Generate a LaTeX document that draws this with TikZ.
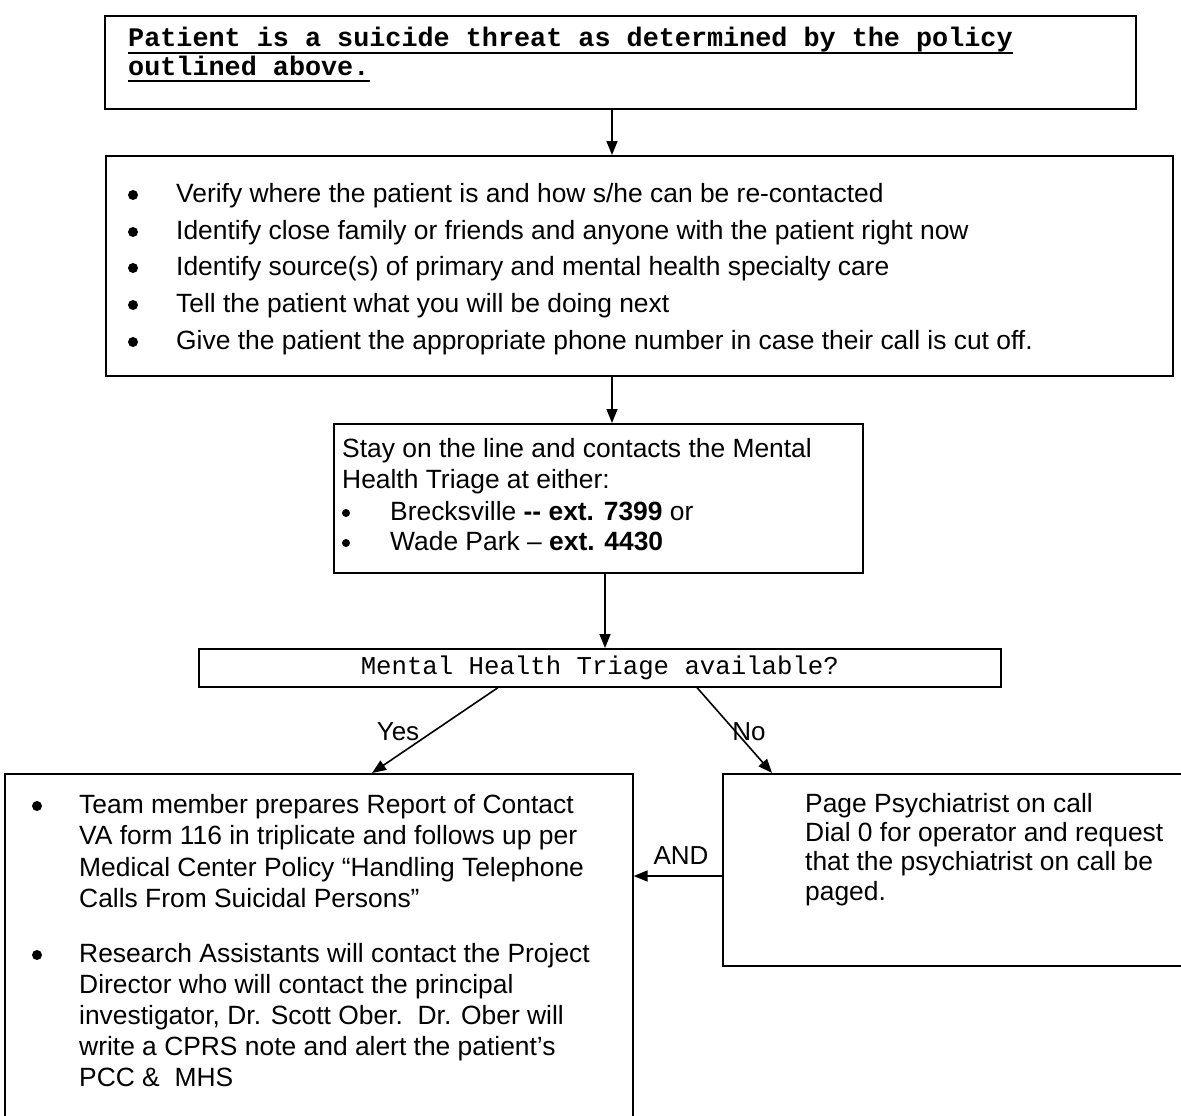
\documentclass[tikz,border=0pt]{standalone}
\usepackage{fontspec}
\setmainfont{Liberation Sans}
\newfontfamily\monof{Liberation Mono}
\usetikzlibrary{arrows.meta}
\begin{document}
\begin{tikzpicture}[x=1pt,y=-1pt,
  box/.style={draw, line width=1.6pt, inner sep=0pt, anchor=north west},
  txt/.style={anchor=base west, inner sep=0pt, font=\fontsize{26.4}{30}\selectfont},
  bul/.style={circle, fill, inner sep=0pt, minimum size=10pt},
  mtxt/.style={anchor=base west, inner sep=0pt, font=\fontsize{26.8}{30}\monof\bfseries},
  uline/.style={line width=1.8pt},
  arr/.style={line width=1.6pt, -{Triangle[length=14pt,width=11pt]}},
  lab/.style={inner sep=0pt, font=\fontsize{26}{30}\selectfont}]
\useasboundingbox (0,0) rectangle (1181,1116);
\clip (0,0) rectangle (1181,1116);
% boxes
\node[box, minimum width=1031pt, minimum height=93pt] (b1) at (104,15) {};
\node[box, minimum width=1067pt, minimum height=220pt] (b2) at (105,155) {};
\node[box, minimum width=529pt, minimum height=149pt] (b3) at (333,423) {};
\node[box, minimum width=802pt, minimum height=38pt] (b4) at (198,648) {};
\node[box, minimum width=628pt, minimum height=360pt] (b5) at (4,773) {};
\node[box, minimum width=480pt, minimum height=192pt] (b6) at (722,773) {};
% box 1 text
\node[mtxt] (t1a) at (128,47) {Patient is a suicide threat as determined by the policy};
\node[mtxt] (t1b) at (128,75) {outlined above.};
\draw[uline] ([yshift=-6pt]t1a.base west) -- ([yshift=-6pt]t1a.base east);
\draw[uline] ([yshift=-6pt]t1b.base west) -- ([yshift=-6pt]t1b.base east);
% box 2 text
\foreach \yy/\tt [count=\i] in {202/{Verify where the patient is and how s/he can be re-contacted},
  239/{Identify close family or friends and anyone with the patient right now},
  275/{Identify source(s) of primary and mental health specialty care},
  312/{Tell the patient what you will be doing next},
  349/{Give the patient the appropriate phone number in case their call is cut off.}}{
  \node[bul] (bu2\i) at (133,\yy-7) {};
  \node[txt] (t2\i) at (176,\yy) {\tt};
}
% box 3 text
\node[txt] (t3a) at (342,457) {Stay on the line and contacts the Mental};
\node[txt] (t3b) at (342,488) {Health Triage at either:};
\node[bul, minimum size=8pt] (bu3a) at (346,513) {};
\node[txt] (t3c) at (390,520) {Brecksville \textbf{-{}-} \textbf{ext. 7399} or};
\node[bul, minimum size=8pt] (bu3b) at (346,543) {};
\node[txt] (t3d) at (390,550) {Wade Park – \textbf{ext. 4430}};
% box 4 text
\node[inner sep=0pt, font=\fontsize{25.7}{30}\monof] (t4) at (b4.center) {Mental Health Triage available?};
% box 5 text
\foreach \yy/\tt [count=\i] in {813/{Team member prepares Report of Contact},
  844/{VA form 116 in triplicate and follows up per},
  876/{Medical Center Policy “Handling Telephone},
  907/{Calls From Suicidal Persons”},
  962/{Research Assistants will contact the Project},
  993/{Director who will contact the principal},
  1024/{investigator, Dr. Scott Ober.\ \ Dr. Ober will},
  1055/{write a CPRS note and alert the patient’s},
  1086/{PCC \&\ \ MHS}}{
  \node[txt] (t5\i) at (79,\yy) {\tt};
}
\node[bul] (bu5a) at (37,806) {};
\node[bul] (bu5b) at (37,955) {};
% box 6 text
\node[txt] (t6a) at (805,812) {Page Psychiatrist on call};
\node[txt] (t6b) at (805,841) {Dial 0 for operator and request};
\node[txt] (t6c) at (805,870) {that the psychiatrist on call be};
\node[txt] (t6d) at (805,900) {paged.};
% connectors
\coordinate (xa) at (612,0);
\coordinate (xb) at (605,0);
\coordinate (xy1) at (498,0);
\coordinate (xy2) at (372,0);
\coordinate (xn1) at (697,0);
\coordinate (xn2) at (772,0);
\coordinate (ya) at (0,876);
\draw[arr] (b1.south -| xa) -- (b2.north -| xa);
\draw[arr] (b2.south -| xa) -- (b3.north -| xa);
\draw[arr] (b3.south -| xb) -- (b4.north -| xb);
\draw[arr] (b4.south -| xy1) -- (b5.north -| xy2);
\draw[arr] (b4.south -| xn1) -- (b6.north -| xn2);
\draw[arr] (b6.west |- ya) -- (b5.east |- ya);
% labels
\node[lab] (lyes) at (398,732) {Yes};
\node[lab] (lno) at (749,732) {No};
\node[lab] (land) at (681,856) {AND};
\end{tikzpicture}
\end{document}
